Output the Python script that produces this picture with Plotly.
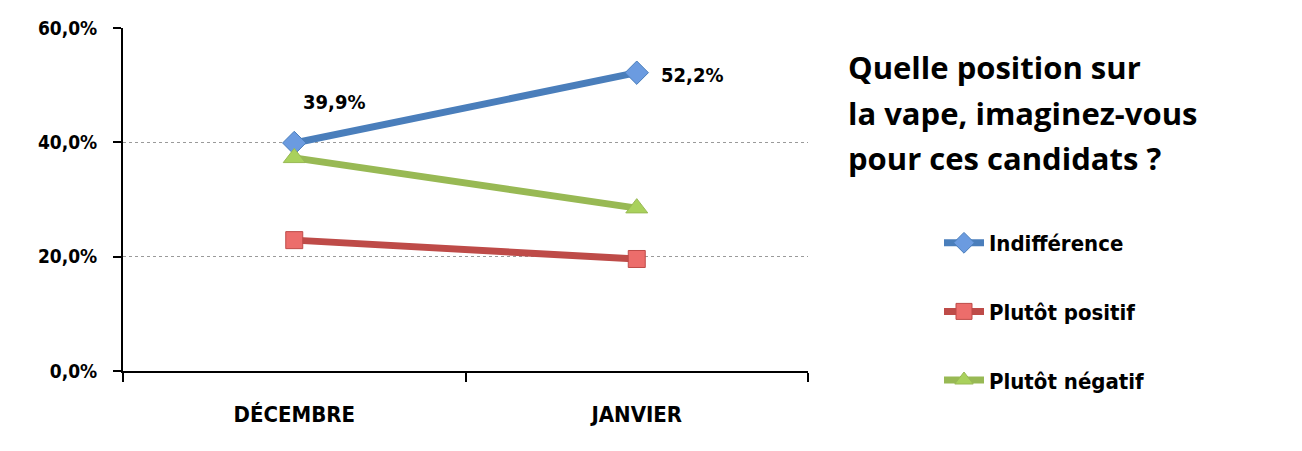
import plotly.graph_objects as go

categories = ["DÉCEMBRE", "JANVIER"]
indifference = [39.9, 52.2]
plutot_positif = [22.9, 19.6]
plutot_negatif = [37.3, 28.5]
series_names = ["Indifférence", "Plutôt positif", "Plutôt négatif"]
title_lines = ["Quelle position sur", "la vape, imaginez-vous", "pour ces candidats ?"]

NARROW = "Liberation Sans Narrow, DejaVu Sans Condensed, Arial Narrow, sans-serif"

# page offset (body margin) = 8px
OFF = 8
PL, PR, PT, PB = 123, 808, 28, 371  # plot area in page coordinates
W, H = 1302 - OFF, 451 - OFF

def px_x(px):
    return (px - PL) / (PR - PL)

def px_y(py):
    return (PB - py) / (PB - PT)

styles = [
    dict(line="#4a7ebb", fill="#6b9be0", symbol="diamond", size=18),
    dict(line="#be4b48", fill="#ec6d6b", symbol="square", size=17),
    dict(line="#98b954", fill="#a9d15c", symbol="triangle-up", size=19),
]

fig = go.Figure()
for i, (name, vals) in enumerate(zip(series_names, [indifference, plutot_positif, plutot_negatif])):
    s = styles[i]
    fig.add_trace(go.Scatter(
        x=categories, y=vals, name=name, mode="lines+markers",
        line=dict(color=s["line"], width=7),
        marker=dict(symbol=s["symbol"], size=s["size"], color=s["fill"],
                    line=dict(color=s["line"], width=1)),
        legendgroup=name,
    ))

def fmt(v):
    return f"{v:.1f}".replace(".", ",") + "%"

fig.add_annotation(x=categories[0], y=indifference[0], text=fmt(indifference[0]),
                   showarrow=False, xshift=40, yshift=41,
                   font=dict(family=NARROW, size=20, color="black", weight="bold"))
fig.add_annotation(x=categories[1], y=indifference[1], text=fmt(indifference[1]),
                   showarrow=False, xshift=55, yshift=-2,
                   font=dict(family=NARROW, size=20, color="black", weight="bold"))

for k, line in enumerate(title_lines):
    fig.add_annotation(xref="paper", yref="paper", x=px_x(846), y=px_y(67 + 45.5 * k),
                       xanchor="left", yanchor="middle", align="left", showarrow=False,
                       text=line,
                       font=dict(family="Open Sans, Noto Sans, sans-serif", size=31,
                                 color="black", weight="bold"))

fig.update_layout(
    width=W, height=H,
    margin=dict(l=PL - OFF, r=W + OFF - PR, t=PT - OFF, b=H + OFF - PB, autoexpand=False),
    paper_bgcolor="white", plot_bgcolor="white",
    separators=", ",
    showlegend=True,
    legend=dict(x=px_x(939), y=px_y(222), xanchor="left", yanchor="top",
                tracegroupgap=37, traceorder="grouped",
                font=dict(family=NARROW, size=22, color="black", weight="bold"),
                itemwidth=40),
    xaxis=dict(
        type="category", range=[-0.5, 1.5], tickson="boundaries", ticks="outside",
        ticklen=9, tickwidth=2, tickcolor="black", showline=True, linecolor="black",
        linewidth=2, showgrid=False, ticklabelstandoff=23,
        tickfont=dict(family=NARROW, size=22, color="black", weight="bold"),
    ),
    yaxis=dict(
        range=[0, 60.02], dtick=20, tickformat=".1f", ticksuffix="%",
        ticks="outside", ticklen=8, tickwidth=2, tickcolor="black",
        showline=True, linecolor="black", linewidth=2,
        showgrid=True, gridcolor="#9a9a9a", gridwidth=1, griddash="dot",
        zeroline=False, ticklabelstandoff=12,
        tickfont=dict(family=NARROW, size=19, color="black", weight="bold"),
    ),
)

fig.write_html("out.html")
